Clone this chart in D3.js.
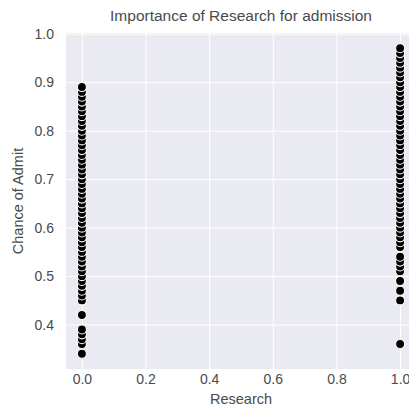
<!DOCTYPE html>
<html>
<head>
<meta charset="utf-8">
<script src="https://cdn.jsdelivr.net/npm/d3@7"></script>
<style>
  body { margin: 0; background: #fff; }
  text { font-family: "Liberation Sans", Arial, sans-serif; }
</style>
</head>
<body>
<div id="chart"></div>
<script>
// ===========================
// Research vs Chance of Admit
// Strip-like scatter, seaborn darkgrid look
// ===========================

// chance of admit values for students without research (Research = 0)
const noResearch = [
    0.34, 0.36, 0.37, 0.38, 0.39, 0.42, 0.45, 0.46, 0.47, 0.48, 0.49,
    0.50, 0.51, 0.52, 0.53, 0.54, 0.55, 0.56, 0.57, 0.58, 0.59, 0.60,
    0.61, 0.62, 0.63, 0.64, 0.65, 0.66, 0.67, 0.68, 0.69, 0.70, 0.71,
    0.72, 0.73, 0.74, 0.75, 0.76, 0.77, 0.78, 0.79, 0.80, 0.81, 0.82,
    0.83, 0.84, 0.85, 0.86, 0.87, 0.88, 0.89
];

// chance of admit values for students with research (Research = 1)
const withResearch = [
    0.36, 0.45, 0.47, 0.49, 0.51, 0.52, 0.53, 0.54, 0.56, 0.57, 0.58,
    0.59, 0.60, 0.61, 0.62, 0.63, 0.64, 0.65, 0.66, 0.67, 0.68, 0.69,
    0.70, 0.71, 0.72, 0.73, 0.74, 0.75, 0.76, 0.77, 0.78, 0.79, 0.80,
    0.81, 0.82, 0.83, 0.84, 0.85, 0.86, 0.87, 0.88, 0.89, 0.90, 0.91,
    0.92, 0.93, 0.94, 0.95, 0.96, 0.97
];

const xTicks = [0, 0.2, 0.4, 0.6, 0.8, 1.0];
const yTicks = [0.4, 0.5, 0.6, 0.7, 0.8, 0.9, 1.0];

const width = 409;
const height = 414;
const margin = { top: 33, left: 66, bottom: 45 };
const plotRight = 416; // axes run a little past the window edge

const data = [
    ...noResearch.map(v => ({ research: 0, chance: v })),
    ...withResearch.map(v => ({ research: 1, chance: v }))
];

const svg = d3.select('#chart')
    .append('svg')
    .attr('width', width)
    .attr('height', height);

const xScale = d3.scaleLinear()
    .domain([-0.05, 1.05])
    .range([margin.left, plotRight]);

const yScale = d3.scaleLinear()
    .domain([0.3085, 1.0015])
    .range([height - margin.bottom, margin.top]);

const bottom = height - margin.bottom;

// background
svg.append('rect')
    .attr('x', margin.left)
    .attr('y', margin.top)
    .attr('width', plotRight - margin.left)
    .attr('height', bottom - margin.top)
    .attr('fill', '#eaeaf2');

// grid
svg.append('g')
    .attr('transform', `translate(0,${bottom})`)
    .call(d3.axisBottom(xScale).tickValues(xTicks).tickSize(-(bottom - margin.top)).tickFormat(''))
    .call(g => g.select('.domain').remove())
    .call(g => g.selectAll('line').attr('stroke', '#fff').attr('stroke-width', 1));

svg.append('g')
    .attr('transform', `translate(${margin.left},0)`)
    .call(d3.axisLeft(yScale).tickValues(yTicks).tickSize(-(plotRight - margin.left)).tickFormat(''))
    .call(g => g.select('.domain').remove())
    .call(g => g.selectAll('line').attr('stroke', '#fff').attr('stroke-width', 1));

// tick labels
svg.append('g')
    .attr('transform', `translate(0,${bottom})`)
    .call(d3.axisBottom(xScale).tickValues(xTicks).tickSize(0).tickPadding(5).tickFormat(d3.format('.1f')))
    .call(g => g.select('.domain').remove())
    .call(g => g.selectAll('text')
        .attr('fill', '#4a4a4a')
        .style('font-size', '14px'));

svg.append('g')
    .attr('transform', `translate(${margin.left},0)`)
    .call(d3.axisLeft(yScale).tickValues(yTicks).tickSize(0).tickPadding(12).tickFormat(d3.format('.1f')))
    .call(g => g.select('.domain').remove())
    .call(g => g.selectAll('text')
        .attr('fill', '#4a4a4a')
        .style('font-size', '14px'));

// points
svg.append('g')
    .selectAll('circle')
    .data(data)
    .join('circle')
    .attr('cx', d => xScale(d.research))
    .attr('cy', d => yScale(d.chance))
    .attr('r', 4.5)
    .attr('fill', '#000')
    .attr('stroke', '#fff')
    .attr('stroke-width', 1.1);

// labels
svg.append('text')
    .attr('x', (margin.left + plotRight) / 2)
    .attr('y', 404)
    .attr('text-anchor', 'middle')
    .attr('fill', '#4a4a4a')
    .style('font-size', '14.5px')
    .text('Research');

svg.append('text')
    .attr('transform', 'rotate(-90)')
    .attr('x', -(margin.top + bottom) / 2)
    .attr('y', 23)
    .attr('text-anchor', 'middle')
    .attr('fill', '#4a4a4a')
    .style('font-size', '14.5px')
    .text('Chance of Admit');

svg.append('text')
    .attr('x', (margin.left + plotRight) / 2)
    .attr('y', 21)
    .attr('text-anchor', 'middle')
    .attr('fill', '#4a4a4a')
    .style('font-size', '15.5px')
    .text('Importance of Research for admission');
</script>
</body>
</html>
